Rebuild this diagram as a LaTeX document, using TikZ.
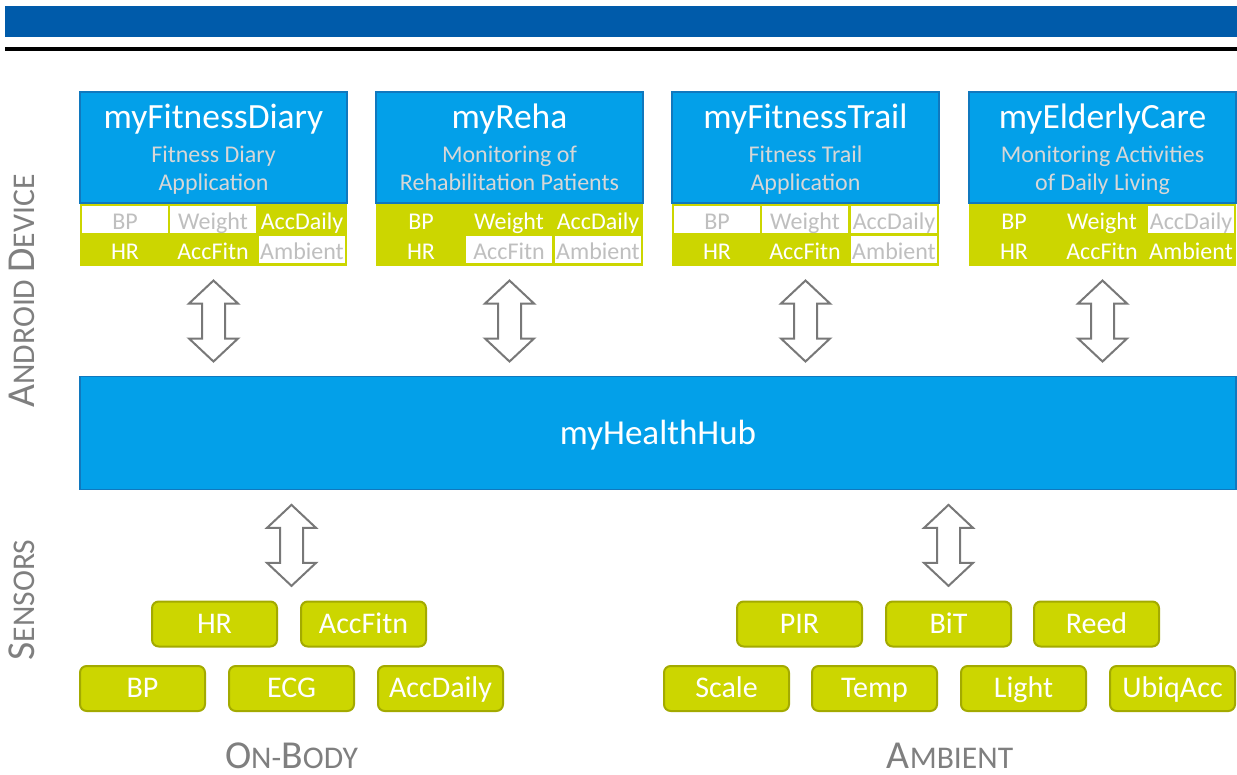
\documentclass[tikz,border=0pt]{standalone}
\usepackage{fontspec}
\setmainfont{Carlito}
\usetikzlibrary{calc}
\newcommand\pxu{0.75pt}
\definecolor{topblue}{RGB}{0,91,170}
\definecolor{appblue}{RGB}{3,160,233}
\definecolor{edgeblue}{RGB}{16,120,190}
\definecolor{olive}{RGB}{204,214,0}
\definecolor{oliveedge}{RGB}{163,170,0}
\definecolor{cellgray}{RGB}{191,191,191}
\definecolor{subgray}{RGB}{215,215,215}
\definecolor{labgray}{RGB}{127,127,127}
\definecolor{arrgray}{RGB}{120,120,120}
\newcommand\bigsc[1]{{\fontsize{29.7}{30}\selectfont #1}}
\newcommand\smsc[1]{{\fontsize{23.7}{30}\selectfont #1}}
\newcommand\updown[1]{\draw[dblarr, shift={(#1)}] (0,-40.5) -- (24.5,-17.5) -- (11.5,-17.5) -- (11.5,17.5) -- (24.5,17.5) -- (0,40.5) -- (-24.5,17.5) -- (-11.5,17.5) -- (-11.5,-17.5) -- (-24.5,-17.5) -- cycle;}
\begin{document}
\begin{tikzpicture}[x=0.75pt,y=-0.75pt,
 appbox/.style={draw=edgeblue, fill=appblue, line width=1.1pt, minimum width=267*\pxu, minimum height=111*\pxu, inner sep=0pt},
 tabbox/.style={fill=olive, minimum width=267*\pxu, minimum height=63*\pxu, inner sep=0pt},
 cellbase/.style={minimum width=86*\pxu, minimum height=27.5*\pxu, inner sep=0pt, text height=14.6pt, text depth=0pt, font=\fontsize{18}{20}\selectfont},
 gcell/.style={cellbase, text=white},
 wcell/.style={cellbase, fill=white, text=cellgray},
 apptitle/.style={anchor=base, text=white, font=\fontsize{26.6}{28}\selectfont, inner sep=0pt},
 appsub/.style={anchor=base, text=subgray, font=\fontsize{18}{20}\selectfont, inner sep=0pt},
 hubbox/.style={draw=edgeblue, fill=appblue, line width=1.1pt, minimum width=1156*\pxu, minimum height=113*\pxu, inner sep=0pt, text=white, text height=16.5pt, text depth=0pt, font=\fontsize{26.3}{28}\selectfont},
 sensor/.style={draw=oliveedge, fill=olive, line width=1.5pt, rounded corners=5pt, minimum width=125*\pxu, minimum height=45*\pxu, inner sep=0pt, text=white, text height=14pt, text depth=0pt, font=\fontsize{22.5}{24}\selectfont},
 dblarr/.style={draw=arrgray, fill=white, line width=1.5pt, line join=miter},
 sidelabel/.style={text=labgray, inner sep=0pt}
]
\useasboundingbox (0,0) rectangle (1237,774);
% header
\fill[topblue] (5,6) rectangle (1237,36.7);
\fill[black] (5,47.3) rectangle (1237,50.7);

% ---- app 1
\node[tabbox] (tab1) at (213.5,234.5) {};
\node[appbox] (app1) at (213.5,147.5) {};
\node[apptitle] (t1) at (213.5,128) {myFitnessDiary};
\node[appsub] (s1a) at (213.5,162) {Fitness Diary};
\node[appsub] (s1b) at (213.5,190) {Application};
\node[wcell] (c1a) at (125,219.3) {BP};
\node[wcell] (c1b) at (213,219.3) {Weight};
\node[gcell] (c1c) at (302,219.3) {AccDaily};
\node[gcell] (c1d) at (125,249.3) {HR};
\node[gcell] (c1e) at (213,249.3) {AccFitn};
\node[wcell] (c1f) at (302,249.3) {Ambient};

% ---- app 2
\node[tabbox] (tab2) at (509.5,234.5) {};
\node[appbox] (app2) at (509.5,147.5) {};
\node[apptitle] (t2) at (509.5,128) {myReha};
\node[appsub] (s2a) at (509.5,162) {Monitoring of};
\node[appsub] (s2b) at (509.5,190) {Rehabilitation Patients};
\node[gcell] (c2a) at (421,219.3) {BP};
\node[gcell] (c2b) at (509,219.3) {Weight};
\node[gcell] (c2c) at (598,219.3) {AccDaily};
\node[gcell] (c2d) at (421,249.3) {HR};
\node[wcell] (c2e) at (509,249.3) {AccFitn};
\node[wcell] (c2f) at (598,249.3) {Ambient};

% ---- app 3
\node[tabbox] (tab3) at (805.5,234.5) {};
\node[appbox] (app3) at (805.5,147.5) {};
\node[apptitle] (t3) at (805.5,128) {myFitnessTrail};
\node[appsub] (s3a) at (805.5,162) {Fitness Trail};
\node[appsub] (s3b) at (805.5,190) {Application};
\node[wcell] (c3a) at (717,219.3) {BP};
\node[wcell] (c3b) at (805,219.3) {Weight};
\node[wcell] (c3c) at (894,219.3) {AccDaily};
\node[gcell] (c3d) at (717,249.3) {HR};
\node[gcell] (c3e) at (805,249.3) {AccFitn};
\node[wcell] (c3f) at (894,249.3) {Ambient};

% ---- app 4
\node[tabbox] (tab4) at (1102.5,234.5) {};
\node[appbox] (app4) at (1102.5,147.5) {};
\node[apptitle] (t4) at (1102.5,128) {myElderlyCare};
\node[appsub] (s4a) at (1102.5,162) {Monitoring Activities};
\node[appsub] (s4b) at (1102.5,190) {of Daily Living};
\node[gcell] (c4a) at (1014,219.3) {BP};
\node[gcell] (c4b) at (1102,219.3) {Weight};
\node[wcell] (c4c) at (1191,219.3) {AccDaily};
\node[gcell] (c4d) at (1014,249.3) {HR};
\node[gcell] (c4e) at (1102,249.3) {AccFitn};
\node[gcell] (c4f) at (1191,249.3) {Ambient};

% ---- hub
\node[hubbox] (hub) at (658,433) {myHealthHub};

% ---- sensors on-body
\node[sensor] (hr) at (214.5,624) {HR};
\node[sensor] (accfitn) at (363.5,624) {AccFitn};
\node[sensor] (bp) at (142.5,688.5) {BP};
\node[sensor] (ecg) at (291.5,688.5) {ECG};
\node[sensor] (accdaily) at (440.5,688.5) {AccDaily};

% ---- sensors ambient
\node[sensor] (pir) at (799.5,624) {PIR};
\node[sensor] (bit) at (948.5,624) {BiT};
\node[sensor] (reed) at (1096.5,624) {Reed};
\node[sensor] (scale) at (726.5,688.5) {Scale};
\node[sensor] (temp) at (874.5,688.5) {Temp};
\node[sensor] (light) at (1023.5,688.5) {Light};
\node[sensor] (ubiq) at (1172.5,688.5) {UbiqAcc};

% ---- arrows
\coordinate (ar1) at ($(tab1.south)!0.5!(tab1.south |- hub.north)$);
\coordinate (ar2) at ($(tab2.south)!0.5!(tab2.south |- hub.north)$);
\coordinate (ar3) at ($(tab3.south)!0.5!(tab3.south |- hub.north)$);
\coordinate (ar4) at ($(tab4.south)!0.5!(tab4.south |- hub.north)$);
\coordinate (ar5) at ($(hub.south -| ecg.north)!0.5!(ecg.north |- hr.north)$);
\coordinate (ar6) at ($(hub.south -| bit.north)!0.5!(bit.north)$);
\updown{ar1}
\updown{ar2}
\updown{ar3}
\updown{ar4}
\updown{ar5}
\updown{ar6}

% ---- side and bottom labels
\node[sidelabel, rotate=90] (android) at (22,291) {\bigsc{A}\smsc{NDROID }\bigsc{D}\smsc{EVICE}};
\node[sidelabel, rotate=90] (sensors) at (22,600) {\bigsc{S}\smsc{ENSORS}};
\node[sidelabel] (onbody) at (291.5,756) {\bigsc{O}\smsc{N-}\bigsc{B}\smsc{ODY}};
\node[sidelabel] (ambient) at (950,756) {\bigsc{A}\smsc{MBIENT}};
\end{tikzpicture}
\end{document}
